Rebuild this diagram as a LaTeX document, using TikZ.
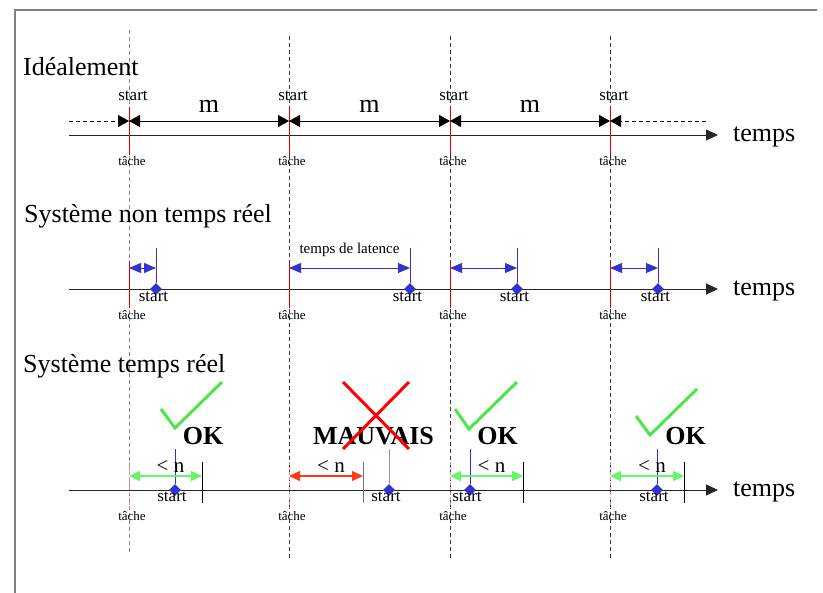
\documentclass[tikz,border=0pt]{standalone}
\usepackage{fontspec}
\setmainfont{Liberation Serif}
\usetikzlibrary{arrows.meta,positioning,calc,shapes.geometric}
\definecolor{ink}{HTML}{000000}
\definecolor{framec}{HTML}{808080}
\definecolor{guide}{HTML}{3A3A3A}
\definecolor{tickred}{HTML}{E00000}
\definecolor{late}{HTML}{3333CC}
\definecolor{okline}{HTML}{4CE64C}
\definecolor{okspan}{HTML}{66F566}
\definecolor{badline}{HTML}{FF0000}
\definecolor{badspan}{HTML}{FF3A1A}
\tikzset{
  heading/.style={font=\fontsize{26}{30}\selectfont,anchor=base west,inner sep=0pt},
  timelbl/.style={font=\fontsize{26}{30}\selectfont,inner sep=0pt,yshift=-2pt},
  startlbl/.style={font=\fontsize{17}{20}\selectfont,anchor=base,inner sep=0pt},
  tachelbl/.style={font=\fontsize{13}{15}\selectfont,anchor=base,inner sep=0pt},
  mlbl/.style={font=\fontsize{26}{30}\selectfont,anchor=base,inner sep=0pt,yshift=8pt},
  latlbl/.style={font=\fontsize{15}{17}\selectfont,anchor=base,inner sep=0pt,yshift=14pt},
  nlbl/.style={font=\fontsize{21}{24}\selectfont,anchor=base,inner sep=0pt,text=ink,xshift=5pt,yshift=3pt},
  verdict/.style={font=\bfseries\fontsize{26}{30}\selectfont,anchor=base,inner sep=0pt},
  guideline/.style={draw=guide,dash pattern=on 4pt off 3pt,line width=0.8pt},
  tickline/.style={draw=tickred,line width=1pt},
  axe/.style={draw=ink!85,line width=0.9pt,-{Triangle[length=12pt,width=11pt]}},
  periodarrow/.style={draw=ink,line width=0.9pt,{Triangle[length=11pt,width=12pt]}-{Triangle[length=11pt,width=12pt]}},
  leader/.style={draw=ink,line width=0.9pt,dash pattern=on 4pt off 3pt},
  latency/.style={draw=late,line width=0.9pt,{Triangle[length=12pt,width=10pt]}-{Triangle[length=12pt,width=10pt]}},
  startpin/.style={draw=late,line width=0.9pt},
  startdot/.style={diamond,fill=late,inner sep=0pt,minimum size=12pt},
  spanarrow/.style={line width=1.2pt,{Triangle[length=11pt,width=10pt]}-{Triangle[length=11pt,width=10pt]}},
  deadline/.style={line width=0.9pt},
  checkmark/.style={draw=okline,line width=3pt},
  crossline/.style={draw=badline,line width=3pt}
}
\begin{document}
\begin{tikzpicture}[x=1pt,y=-1pt]
  \useasboundingbox (0,0) rectangle (823,593);
  \draw[draw=framec,line width=1.4pt] (15,593) -- (15,10) -- (817,10);
  \coordinate (gt1) at (129,30);
  \coordinate (gb1) at (129,552);
  \draw[guideline,draw=guide!60] (gt1) -- (gb1);
  \foreach \x [count=\i from 2] in {289,450,610}{
    \coordinate (gt\i) at (\x,36);
    \coordinate (gb\i) at (\x,558);
    \draw[guideline] (gt\i) -- (gb\i);
  }

  \node[heading] (ideal) at (23,76) {Idéalement};
  \coordinate (ax1a) at (69,135);
  \coordinate (ax1b) at (718,135);
  \draw[axe] (ax1a) -- (ax1b);
  \node[timelbl,right=15pt of ax1b] (temps1) {temps};
  \foreach \x [count=\i] in {129,289,450,610}{
    \coordinate (d\i) at (\x,121);
    \draw[tickline] (\x,107) -- (\x,155);
    \node[startlbl] (st\i) at (\x+4,101) {start};
    \node[tachelbl] (ta\i) at (\x+3,166) {tâche};
  }
  \coordinate (d0) at (69,121);
  \coordinate (d5) at (706,121);
  \draw[leader,-{Triangle[length=11pt,width=12pt]}] (d0) -- (d1);
  \draw[periodarrow] (d1) -- node[mlbl]{m} (d2);
  \draw[periodarrow] (d2) -- node[mlbl]{m} (d3);
  \draw[periodarrow] (d3) -- node[mlbl]{m} (d4);
  \draw[leader,-{Triangle[length=11pt,width=12pt]}] (d5) -- (d4);

  \node[heading] (nonrt) at (24,223) {Système non temps réel};
  \coordinate (ax2a) at (69,289);
  \coordinate (ax2b) at (718,289);
  \draw[axe] (ax2a) -- (ax2b);
  \node[timelbl,right=15pt of ax2b] (temps2) {temps};
  \foreach \x/\s [count=\i] in {129/156,289/410,450/517,610/658}{
    \draw[tickline] (\x,261) -- (\x,308);
    \coordinate (q\i) at (\s,248);
    \node[startdot] (p\i) at (\s,289) {};
    \draw[startpin] (q\i) -- (p\i);
    \coordinate (la\i) at (\x,268);
    \coordinate (lb\i) at (\s,268);
    \draw[latency] (la\i) -- (lb\i);
    \node[startlbl] (sp\i) at (\s-2.5,301.5) {start};
    \node[tachelbl] (tb\i) at (\x+3,320) {tâche};
  }
  \path (la2) -- node[latlbl]{temps de latence} (lb2);

  \node[heading] (rt) at (23,373) {Système temps réel};
  \coordinate (ax3a) at (69,490);
  \coordinate (ax3b) at (718,490);
  \draw[axe] (ax3a) -- (ax3b);
  \node[timelbl,right=15pt of ax3b] (temps3) {temps};
  \foreach \x/\s/\d/\c/\k [count=\i] in {129/175/202/okspan/100,289/389/363/badspan/55,450/470/523/okspan/100,610/657/684/okspan/100}{
    \draw[tickline,draw=tickred!45,dash pattern=on 3pt off 2pt] (\x,462) -- (\x,508);
    \coordinate (qr\i) at (\s,449);
    \node[startdot] (pr\i) at (\s,490) {};
    \draw[startpin,draw=late!\k] (qr\i) -- (pr\i);
    \coordinate (dla\i) at (\d,462);
    \coordinate (dlb\i) at (\d,503);
    \draw[deadline,draw=ink!\k] (dla\i) -- (dlb\i);
    \coordinate (ga\i) at (\x,476);
    \coordinate (gb\i) at (\d,476);
    \draw[spanarrow,draw=\c] (ga\i) -- node[nlbl]{< n} (gb\i);
    \node[startlbl] (sr\i) at (\s-3,502) {start};
    \node[tachelbl] (tc\i) at (\x+3,521) {tâche};
  }
  \node[verdict] (ok1) at (203,445) {OK};
  \node[verdict] (bad) at (373.5,445) {MAUVAIS};
  \node[verdict] (ok2) at (497.5,445) {OK};
  \node[verdict] (ok3) at (685.5,445) {OK};
  \draw[checkmark] (161,409) -- (175,428) -- (222,382);
  \draw[checkmark] (455,409) -- (469,429) -- (517,382);
  \draw[checkmark] (636,416) -- (650,435) -- (697,389);
  \draw[crossline] (343,382) -- (409,449);
  \draw[crossline] (409,382) -- (343,449);
\end{tikzpicture}
\end{document}
